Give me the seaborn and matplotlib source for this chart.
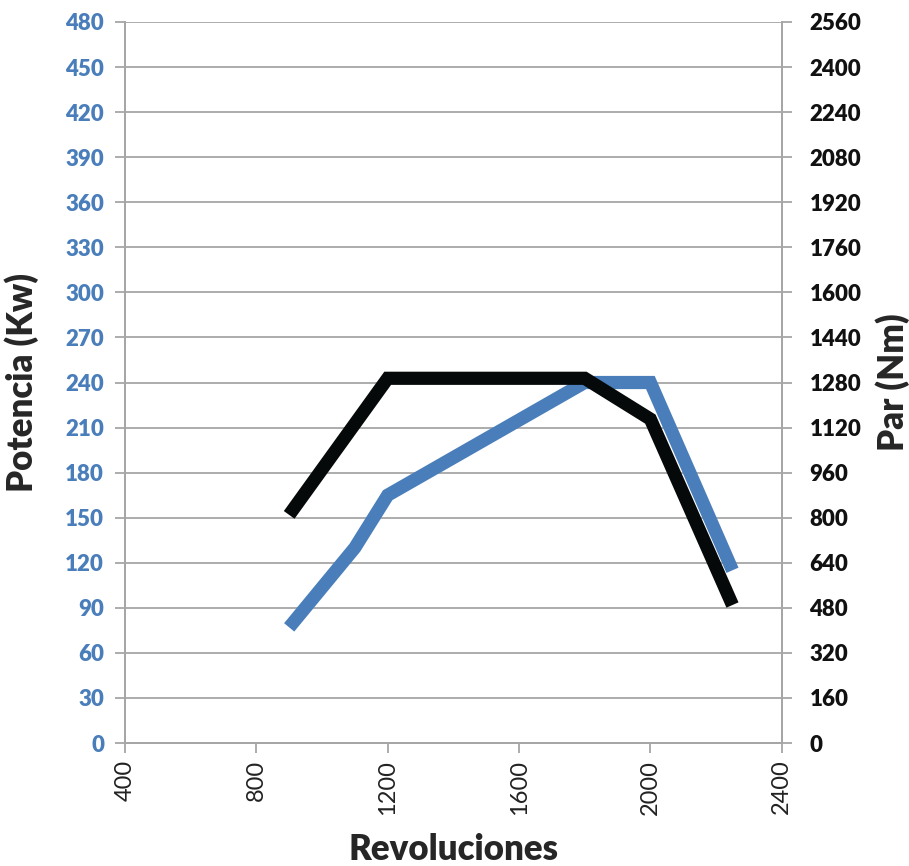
import matplotlib
matplotlib.use("Agg")
import matplotlib.pyplot as plt
import seaborn as sns

# data
rpm_power = [900, 1100, 1200, 1400, 1800, 2000, 2250]
power_kw = [77, 130, 165, 190, 240, 240, 115]
rpm_torque = [900, 1200, 1800, 2000, 2250]
torque_nm = [810, 1295, 1295, 1150, 490]

x_ticks = [400, 800, 1200, 1600, 2000, 2400]
power_ticks = list(range(0, 481, 30))
torque_ticks = list(range(0, 2561, 160))

blue = "#4a7ebb"
black = "#050909"
grey = "#a6a6a6"

sns.set_style("white")
plt.rcParams["font.family"] = ["Lato", "DejaVu Sans"]

fig = plt.figure(figsize=(9.09, 8.66), dpi=100)
ax = fig.add_axes([0.1375, 0.142, 0.7225, 0.8326])

ax.set_xlim(400, 2400)
ax.set_ylim(0, 480)
ax.set_xticks(x_ticks)
ax.set_yticks(power_ticks)
ax.grid(axis="y", color=grey, linewidth=1.3)
ax.set_axisbelow(True)

sns.lineplot(x=rpm_power, y=power_kw, ax=ax, color=blue, linewidth=9.5,
             solid_joinstyle="miter", solid_capstyle="butt")

ax2 = ax.twinx()
ax2.set_ylim(0, 2560)
ax2.set_yticks(torque_ticks)
sns.lineplot(x=rpm_torque, y=torque_nm, ax=ax2, color=black, linewidth=9.5,
             solid_joinstyle="miter", solid_capstyle="butt")

for a in (ax, ax2):
    a.spines["top"].set_visible(False)
    for s in ("left", "right", "bottom"):
        a.spines[s].set_color(grey)
        a.spines[s].set_linewidth(1.3)

ax.tick_params(axis="y", colors=grey, labelcolor=blue, length=7, width=1.3,
               direction="out", labelsize=16, pad=8, left=True)
for t in ax.get_yticklabels():
    t.set_fontweight("heavy")
ax.tick_params(axis="x", colors=grey, labelcolor="#222222", length=7, width=1.3,
               direction="out", labelsize=17, labelrotation=90, pad=5, bottom=True)

ax2.tick_params(axis="y", colors=grey, labelcolor="#111111", length=7, width=1.3,
                direction="out", labelsize=16, pad=13, right=True)
for t in ax2.get_yticklabels():
    t.set_fontweight("heavy")

ax.set_ylabel("Potencia (Kw)", fontsize=25, fontweight="heavy", va="center")
ax.yaxis.set_label_coords(-0.157, 0.5)
ax2.set_ylabel("Par (Nm)", fontsize=25, fontweight="heavy", rotation=90, va="center")
ax2.yaxis.set_label_coords(1.169, 0.5)
ax.set_xlabel("Revoluciones", fontsize=25, fontweight="heavy", va="center")
ax.xaxis.set_label_coords(0.5, -0.148)

fig.savefig("out.png", dpi=100)
